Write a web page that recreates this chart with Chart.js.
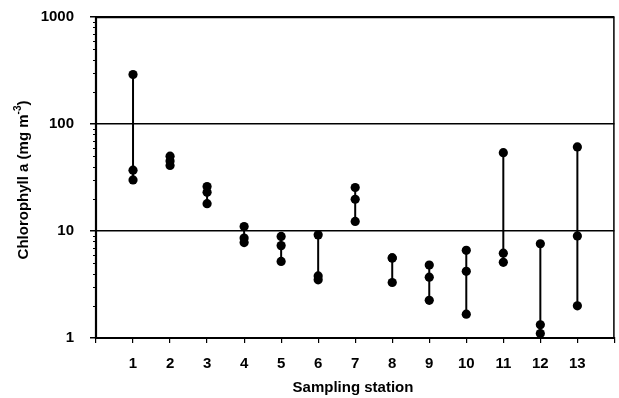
<!DOCTYPE html>
<html>
<head>
<meta charset="utf-8">
<script src="https://cdn.jsdelivr.net/npm/chart.js@4"></script>
<style>
html,body{margin:0;padding:0;background:#fff;}
#wrap{width:619px;height:398px;}
</style>
</head>
<body>
<div id="wrap"><canvas id="c" width="619" height="398"></canvas></div>
<script>
const stations = [1,2,3,4,5,6,7,8,9,10,11,12,13];
const maxVals = [290, 50, 26, 11, 8.9, 9.2, 25.5, 5.6, 4.8, 6.6, 54, 7.6, 61];
const midVals = [37, 45, 23, 8.6, 7.3, 3.8, 19.8, 5.6, 3.7, 4.2, 6.2, 1.33, 9.0];
const minVals = [30, 41, 18, 7.8, 5.2, 3.5, 12.3, 3.3, 2.25, 1.67, 5.1, 1.1, 2.0];
const yTicks = [1, 10, 100, 1000];
const xTickLabels = ['', '1','2','3','4','5','6','7','8','9','10','11','12','13',''];

const datasets = stations.map((s, i) => ({
  data: [{x: s, y: minVals[i]}, {x: s, y: midVals[i]}, {x: s, y: maxVals[i]}],
  borderColor: '#000',
  backgroundColor: '#000',
  borderWidth: 2,
  pointRadius: 4.6,
  pointBackgroundColor: '#000',
  pointBorderWidth: 0,
  showLine: true
}));

const FONT = '"Liberation Sans", Arial, sans-serif';

const framePlugin = {
  id: 'frame',
  afterDraw(chart) {
    const {ctx, chartArea: a} = chart;
    const y = chart.scales.y;
    ctx.save();
    ctx.strokeStyle = '#000';
    ctx.lineWidth = 1.5;
    ctx.beginPath();
    ctx.moveTo(a.left, a.top + 0.5);
    ctx.lineTo(a.right - 0.5, a.top + 0.5);
    ctx.lineTo(a.right - 0.5, a.bottom);
    ctx.stroke();
    ctx.lineWidth = 2.2;
    ctx.beginPath();
    ctx.moveTo(a.left, a.top);
    ctx.lineTo(a.left, a.bottom + 1);
    ctx.stroke();
    ctx.lineWidth = 1;
    for (let d = 1; d < 1000; d *= 10) {
      for (let m = 2; m <= 9; m++) {
        const py = Math.round(y.getPixelForValue(d * m)) + 0.5;
        ctx.beginPath();
        ctx.moveTo(a.left - 3, py);
        ctx.lineTo(a.left, py);
        ctx.stroke();
      }
    }
    ctx.fillStyle = '#000';
    ctx.translate(24, 180);
    ctx.rotate(-Math.PI / 2);
    ctx.textBaseline = 'middle';
    const main = 'Chlorophyll a (mg m';
    const sup = '-3';
    const end = ')';
    ctx.font = 'bold 15px ' + FONT;
    const w1 = ctx.measureText(main).width;
    const w3 = ctx.measureText(end).width;
    ctx.font = 'bold 10px ' + FONT;
    const w2 = ctx.measureText(sup).width;
    const total = w1 + w2 + w3;
    let x0 = -total / 2;
    ctx.font = 'bold 15px ' + FONT;
    ctx.textAlign = 'left';
    ctx.fillText(main, x0, 0);
    ctx.font = 'bold 10px ' + FONT;
    ctx.fillText(sup, x0 + w1, -6);
    ctx.font = 'bold 15px ' + FONT;
    ctx.fillText(end, x0 + w1 + w2, 0);
    ctx.restore();
    ctx.save();
    ctx.fillStyle = '#000';
    ctx.font = 'bold 15px ' + FONT;
    ctx.textAlign = 'center';
    ctx.textBaseline = 'middle';
    ctx.fillText('Sampling station', 353, 388);
    ctx.restore();
  }
};

new Chart(document.getElementById('c'), {
  type: 'scatter',
  data: { datasets },
  options: {
    responsive: false,
    animation: false,
    devicePixelRatio: 1,
    layout: { padding: { top: 17, right: -3, left: 0, bottom: 0 } },
    plugins: { legend: { display: false }, tooltip: { enabled: false } },
    scales: {
      x: {
        type: 'linear',
        min: 0, max: 14,
        afterBuildTicks(scale) { scale.ticks = xTickLabels.map((_, i) => ({value: i})); },
        afterFit(scale) { scale.height = 60; scale.paddingLeft = 0; scale.paddingRight = 0; },
        border: { display: true, color: '#000', width: 2 },
        grid: { drawOnChartArea: false, drawTicks: true, tickLength: 5, color: '#000', lineWidth: 1.2 },
        ticks: {
          autoSkip: false,
          maxRotation: 0,
          padding: 12,
          color: '#000',
          font: { family: FONT, size: 15, weight: 'bold' },
          callback: (v) => xTickLabels[v] ?? ''
        }
      },
      y: {
        type: 'logarithmic',
        min: 1, max: 1000,
        afterBuildTicks(scale) { scale.ticks = yTicks.map(v => ({value: v, major: true})); },
        afterFit(scale) { scale.width = 96; scale.paddingTop = 0; scale.paddingBottom = 0; },
        border: { display: true, color: '#000', width: 2 },
        grid: {
          drawOnChartArea: true,
          drawTicks: true,
          tickLength: 6,
          color: '#000',
          lineWidth: 1.5
        },
        ticks: {
          autoSkip: false,
          padding: 16,
          color: '#000',
          font: { family: FONT, size: 15, weight: 'bold' },
          callback: (v) => String(v)
        }
      }
    }
  },
  plugins: [framePlugin]
});
</script>
</body>
</html>
